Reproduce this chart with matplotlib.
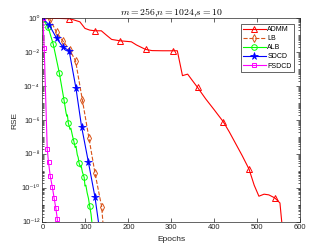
import numpy as np
import matplotlib
matplotlib.use('Agg')
import matplotlib.pyplot as plt
from matplotlib.ticker import LogLocator, FixedLocator, NullFormatter, FuncFormatter

plt.rcParams['font.family'] = ['Liberation Sans', 'DejaVu Sans']

# data: epochs and log10(RSE)
admm_epochs = [0, 20, 40, 62, 72, 87, 99, 110, 122, 137, 149, 161, 180, 207, 219, 240,
               255, 280, 303, 314, 326, 338, 350, 361, 380, 400, 421, 435, 450, 465,
               481, 493, 504, 516, 527, 541, 553, 559]
admm_log = [0, 0, 0, -0.02, -0.08, -0.2, -0.59, -0.69, -0.73, -0.73, -0.99, -1.24, -1.32,
            -1.38, -1.57, -1.83, -1.9, -1.91, -1.91, -1.91, -3.38, -3.29, -3.7, -4.07,
            -4.75, -5.4, -6.1, -6.7, -7.4, -8.1, -8.9, -9.85, -10.5, -10.38, -10.42,
            -10.6, -10.9, -12.5]
admm_marks = [0, 3, 8, 12, 15, 18, 23, 26, 30, 35]

lb_epochs = [2, 17, 33, 48, 63, 77, 93, 108, 122, 138, 142]
lb_log = [0, -0.03, -0.83, -1.35, -1.85, -2.5, -4.84, -7.04, -9.1, -11.15, -12.5]
lb_marks = list(range(10))

alb_epochs = [0, 13, 25, 39, 50, 55, 57, 58, 60, 64, 66, 70, 73, 76, 78, 81, 83, 85,
              88, 90, 93, 97, 99, 101, 104, 107, 110, 113, 117]
alb_log = [0, -0.5, -1.52, -3.2, -4.8, -5.6, -5.78, -5.7, -6.16, -6.55, -6.48, -6.95,
           -7.25, -7.62, -7.55, -8.05, -8.2, -8.52, -8.78, -8.7, -9.08, -9.38, -9.9,
           -9.85, -10.3, -10.62, -11.1, -11.55, -12.5]
alb_marks = [0, 1, 2, 3, 4, 8, 12, 17, 21, 26]

sdcd_epochs = [1, 16, 33, 47, 62, 78, 91, 107, 122, 133]
sdcd_log = [0, -0.4, -1.18, -1.67, -1.91, -4.13, -6.39, -8.5, -10.52, -12.5]
sdcd_marks = list(range(9))

fsdcd_epochs = [1, 4, 11, 14, 18, 23, 27, 31, 34.5, 36]
fsdcd_log = [0, -1.77, -7.7, -8.5, -9.3, -9.97, -10.6, -11.2, -11.84, -12.5]
fsdcd_marks = list(range(9))

x_ticks = [0, 100, 200, 300, 400, 500, 600]
y_tick_exps = [-12, -10, -8, -6, -4, -2, 0]

fig, ax = plt.subplots(figsize=(3.32, 2.49), dpi=100)
fig.subplots_adjust(left=0.128, right=0.904, bottom=0.11, top=0.926)

ms = 4
lw = 0.8
ax.semilogy(admm_epochs, 10.0 ** np.array(admm_log), '-', color=(1, 0, 0), lw=lw,
            marker='^', ms=ms, mfc='none', mew=0.7, markevery=admm_marks, label='ADMM')
ax.semilogy(lb_epochs, 10.0 ** np.array(lb_log), '--', color=(0.85, 0.325, 0.098), lw=lw,
            marker='d', ms=ms, mfc='none', mew=0.7, markevery=lb_marks, label='LB')
ax.semilogy(alb_epochs, 10.0 ** np.array(alb_log), '-', color=(0, 1, 0), lw=lw,
            marker='o', ms=ms, mfc='none', mew=0.7, markevery=alb_marks, label='ALB')
ax.semilogy(sdcd_epochs, 10.0 ** np.array(sdcd_log), '-', color=(0, 0, 1), lw=lw,
            marker='*', ms=ms + 1.5, mew=0.5, markevery=sdcd_marks, label='SDCD')
ax.semilogy(fsdcd_epochs, 10.0 ** np.array(fsdcd_log), '-', color=(1, 0, 1), lw=lw,
            marker='s', ms=ms - 0.5, mfc='none', mew=0.7, markevery=fsdcd_marks, label='FSDCD')

# y tick labels as plain text with superscript digits (10⁻²)
sup = str.maketrans('0123456789-', '⁰¹²³⁴⁵⁶⁷⁸⁹⁻')

ax.set_xlim(0, 600)
ax.set_ylim(1e-12, 1e0)
ax.set_xticks(x_ticks)
ax.yaxis.set_major_locator(FixedLocator([10.0 ** k for k in y_tick_exps]))
ax.yaxis.set_major_formatter(FuncFormatter(lambda v, p: '10' + str(round(np.log10(v))).translate(sup)))
ax.yaxis.set_minor_locator(LogLocator(base=10, subs=np.arange(1, 10), numticks=100))
ax.yaxis.set_minor_formatter(NullFormatter())
ax.tick_params(which='both', direction='in', top=True, right=True, labelsize=5.5,
               width=0.5, color='#262626', labelcolor='#262626', pad=2)
ax.tick_params(which='major', length=3)
ax.tick_params(which='minor', length=1.5)
for s in ax.spines.values():
    s.set_linewidth(0.5)
    s.set_color('#262626')

ax.set_xlabel('Epochs', fontsize=6, color='#262626', labelpad=3)
ax.set_ylabel('RSE', fontsize=6, color='#262626', labelpad=2)
ax.set_title(r'$m = 256$,$n = 1024$,$s = 10$', fontsize=7, pad=2, math_fontfamily='cm')

leg = ax.legend(loc='upper right', bbox_to_anchor=(0.975, 0.972), borderaxespad=0,
                fontsize=5, handlelength=3.3, handletextpad=0.2, labelspacing=0.3,
                borderpad=0.3, fancybox=False, framealpha=1)
leg.get_frame().set_edgecolor('#262626')
leg.get_frame().set_linewidth(0.5)

fig.savefig('out.png', dpi=100)
